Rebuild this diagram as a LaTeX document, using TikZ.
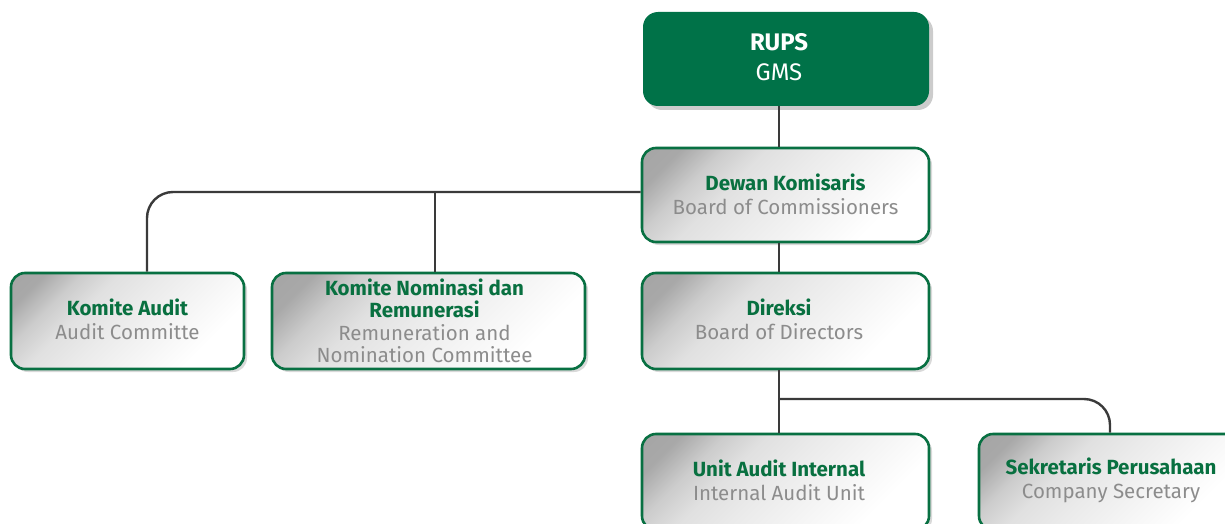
\documentclass[tikz,border=0pt]{standalone}
\usepackage{fontspec}
\setmainfont{Fira Sans}
\usetikzlibrary{shadows,calc}
\definecolor{dgreen}{RGB}{0,114,72}
\definecolor{bgreen}{RGB}{8,112,66}
\definecolor{tgreen}{RGB}{8,112,64}
\definecolor{tgray}{RGB}{140,140,140}
\definecolor{lgray}{RGB}{58,58,58}
\pgfdeclarehorizontalshading{boxshade}{100bp}{color(0bp)=(black!38); color(22bp)=(black!34); color(30bp)=(black!20); color(38bp)=(black!12); color(48bp)=(black!8); color(60bp)=(black!4); color(72bp)=(white); color(100bp)=(white)}
\tikzset{
  orgbox/.style={draw=bgreen, line width=2.6pt, rounded corners=14pt, shading=boxshade, shading angle=-45,
     minimum height=94pt, inner sep=0pt,
     drop shadow={shadow xshift=3pt, shadow yshift=-3pt, opacity=0.15, fill=black}},
  topbox/.style={fill=dgreen, rounded corners=15pt, minimum height=94pt, inner sep=0pt,
     drop shadow={shadow xshift=4pt, shadow yshift=-4pt, opacity=0.2, fill=black}},
  txt/.style={align=center, inner sep=0pt, font=\fontsize{20.5}{24}\selectfont},
  conn/.style={draw=lgray, line width=2.4pt}
}
\newcommand{\bt}[1]{{\bfseries\color{tgreen}#1}}
\newcommand{\gt}[1]{{\color{tgray}#1}}
\begin{document}
\begin{tikzpicture}[x=1pt,y=-1pt]
\path[use as bounding box, clip] (0,0) rectangle (1225,524);
\fill[white] (0,0) rectangle (1225,524);
% boxes
\node[topbox, minimum width=286pt] (rups) at (786,59) {};
\node[orgbox, minimum width=287pt] (dewan) at (785.5,195) {};
\node[orgbox, minimum width=233pt, minimum height=96pt] (audit) at (127.5,321) {};
\node[orgbox, minimum width=313pt, minimum height=96pt] (nom) at (428.5,321) {};
\node[orgbox, minimum width=287pt, minimum height=96pt] (direksi) at (785.5,321) {};
\node[orgbox, minimum width=287pt, minimum height=96pt] (unit) at (785.5,482) {};
\node[orgbox, minimum width=264pt, minimum height=96pt] (sek) at (1111,482) {};
% texts
\node[txt, text=white, font=\fontsize{24}{30}\selectfont] (rupsT) at (779,57) {\textbf{RUPS}\\GMS};
\node[txt] (dewanT) at (785.5,194) {\bt{Dewan Komisaris}\\\gt{Board of Commissioners}};
\node[txt] (auditT) at (127.5,319) {\bt{Komite Audit}\\\gt{Audit Committe}};
\node[txt, font=\fontsize{20.5}{22.5}\selectfont] (nomT) at (424.5,321) {\bt{Komite Nominasi dan}\\\bt{Remunerasi}\\\gt{Remuneration and}\\\gt{Nomination Committee}};
\node[txt] (direksiT) at (779,319) {\bt{Direksi}\\\gt{Board of Directors}};
\node[txt] (unitT) at (779,480) {\bt{Unit Audit Internal}\\\gt{Internal Audit Unit}};
\node[txt] (sekT) at (1111,480) {\bt{Sekretaris Perusahaan}\\\gt{Company Secretary}};
% connectors
\draw[conn] ([xshift=-7pt]rups.south) -- ([xshift=-6.5pt]dewan.north);
\coordinate (h) at ([yshift=3pt]dewan.west);
\draw[conn, rounded corners=26pt] (h) -| ([xshift=19.5pt]audit.north);
\coordinate (n) at ([xshift=6.5pt]nom.north);
\draw[conn] (n) -- (n |- h);
\draw[conn] ([xshift=-6.5pt]dewan.south) -- ([xshift=-6.5pt]direksi.north);
\draw[conn] ([xshift=-6.5pt]direksi.south) -- ([xshift=-6.5pt]unit.north);
\coordinate (br) at (779,399);
\draw[conn, rounded corners=26pt] (br) -| ([xshift=-1pt]sek.north);
\end{tikzpicture}
\end{document}
